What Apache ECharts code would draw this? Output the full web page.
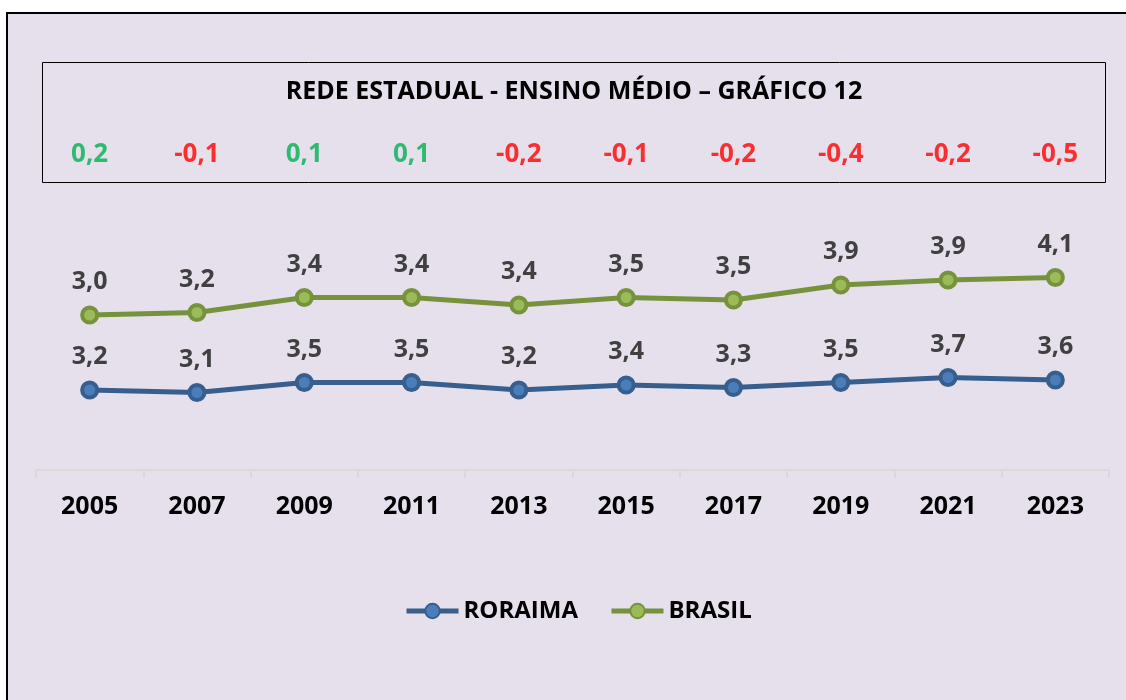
<!DOCTYPE html>
<html>
<head>
<meta charset="utf-8">
<title>Rede Estadual - Ensino Médio</title>
<script src="https://cdn.jsdelivr.net/npm/echarts@6/dist/echarts.min.js"></script>
<style>
    html, body { margin: 0; padding: 0; background: #ffffff; }
    #chart { width: 1126px; height: 700px; }
</style>
</head>
<body>
<div id="chart"></div>
<script>
// --- dados ---
const anos = ['2005', '2007', '2009', '2011', '2013', '2015', '2017', '2019', '2021', '2023'];
const roraima = [3.2, 3.1, 3.5, 3.5, 3.2, 3.4, 3.3, 3.5, 3.7, 3.6];
const brasil = [3.0, 3.2, 3.4, 3.4, 3.4, 3.5, 3.5, 3.9, 3.9, 4.1];
const diferencas = [0.2, -0.1, 0.1, 0.1, -0.2, -0.1, -0.2, -0.4, -0.2, -0.5];

const fonte = '"Open Sans", "Noto Sans", sans-serif';
const fmt = (v) => v.toFixed(1).replace('.', ',');

const chart = echarts.init(document.getElementById('chart'));

const serieLinha = (nome, dados, corLinha, corMarca) => ({
    name: nome,
    type: 'line',
    stack: 'total', // no original as linhas estão empilhadas
    data: dados,
    symbol: 'circle',
    symbolSize: 15,
    lineStyle: { color: corLinha, width: 5 },
    itemStyle: { color: corMarca, borderColor: corLinha, borderWidth: 4 },
    label: {
        show: true,
        position: 'top',
        distance: 11,
        formatter: (p) => fmt(p.value),
        color: '#404040',
        fontFamily: fonte,
        fontWeight: 'bold',
        fontSize: 25
    },
    emphasis: { disabled: true },
    z: 3
});

const option = {
    backgroundColor: '#ffffff',
    animation: false,
    graphic: [
        {
            type: 'rect', z: -10, silent: true,
            shape: { x: 7, y: 13, width: 1140, height: 720 },
            style: { fill: '#E5E0EC', stroke: '#000000', lineWidth: 2 }
        },
        {
            type: 'rect', z: -9, silent: true,
            shape: { x: 42.5, y: 62.5, width: 1063, height: 120 },
            style: { fill: 'transparent', stroke: '#000000', lineWidth: 1 }
        },
        {
            type: 'text', silent: true,
            x: 574, y: 92,
            style: {
                text: 'REDE ESTADUAL - ENSINO MÉDIO – GRÁFICO 12',
                fill: '#000000', fontFamily: fonte, fontWeight: 'bold', fontSize: 25,
                align: 'center', verticalAlign: 'middle'
            }
        }
    ],
    legend: {
        data: ['RORAIMA', 'BRASIL'],
        left: 399,
        top: 594,
        itemWidth: 52,
        itemHeight: 18,
        itemGap: 31,
        lineStyle: { width: 5 },
        textStyle: { color: '#000000', fontFamily: fonte, fontWeight: 'bold', fontSize: 24 }
    },
    grid: [
        { left: 36, right: 17, top: 220, bottom: 230 },
        { left: 36, right: 17, top: 140, height: 30 }
    ],
    xAxis: [
        {
            type: 'category',
            data: anos,
            boundaryGap: true,
            axisLine: { lineStyle: { color: '#D9D9D9', width: 2 } },
            axisTick: { show: true, length: 8, lineStyle: { color: '#D9D9D9', width: 2 } },
            axisLabel: {
                color: '#000000', fontFamily: fonte, fontWeight: 'bold', fontSize: 25, margin: 24
            }
        },
        { type: 'category', data: anos, gridIndex: 1, show: false }
    ],
    yAxis: [
        { type: 'value', min: 0, max: 10, show: false, splitLine: { show: false } },
        { type: 'value', min: 0, max: 1, gridIndex: 1, show: false }
    ],
    series: [
        serieLinha('RORAIMA', roraima, '#375E8D', '#4A7EBB'),
        serieLinha('BRASIL', brasil, '#76923C', '#9BBB59'),
        {
            // diferenças dentro da caixa do título
            type: 'scatter',
            xAxisIndex: 1,
            yAxisIndex: 1,
            symbolSize: 0,
            silent: true,
            data: diferencas.map((d, i) => ({
                value: [i, 0.5],
                label: { color: d >= 0 ? '#00B050' : '#FF0000' }
            })),
            label: {
                show: true,
                position: 'inside',
                formatter: (p) => fmt(diferencas[p.dataIndex]),
                fontFamily: fonte,
                fontWeight: 'bold',
                fontSize: 26
            }
        }
    ]
};

chart.setOption(option);
</script>
</body>
</html>
